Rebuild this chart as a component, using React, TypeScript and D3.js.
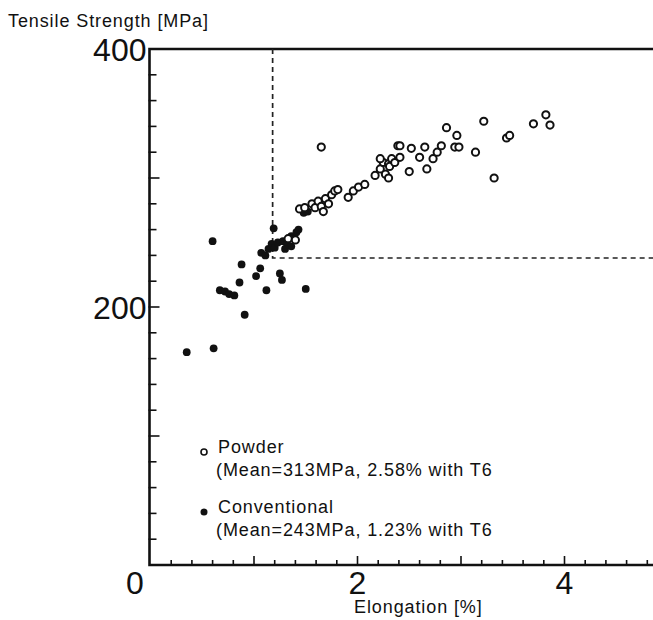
import React, { useRef, useEffect } from "react";
import * as d3 from "d3";

// powder metallurgy samples (open markers)
const powderElong = [
  1.33, 1.4, 1.44, 1.49, 1.56, 1.59, 1.62, 1.65, 1.69, 1.72, 1.75, 1.78, 1.81,
  1.67, 1.65, 1.91, 1.96, 2.01, 2.07, 2.17, 2.22, 2.27, 2.3, 2.25, 2.3, 2.33,
  2.39, 2.22, 2.31, 2.36, 2.41, 2.41, 2.5, 2.52, 2.6, 2.65, 2.67, 2.73, 2.77,
  2.81, 2.86, 2.94, 2.98, 2.96, 3.14, 3.22, 3.32, 3.44, 3.47, 3.7, 3.82, 3.86,
];
const powderStrength = [
  253, 252, 276, 277, 280, 277, 282, 278, 284, 280, 287, 290, 291,
  274, 324, 285, 290, 293, 295, 302, 307, 303, 300, 312, 311, 315,
  325, 315, 309, 312, 316, 325, 305, 323, 316, 324, 307, 315, 320,
  325, 339, 324, 324, 333, 320, 344, 300, 331, 333, 342, 349, 341,
];

// conventional castings (filled markers)
const convElong = [
  0.35, 0.61, 0.6, 0.67, 0.72, 0.76, 0.81, 0.86, 0.88, 0.91, 1.02, 1.06, 1.12,
  1.25, 1.27, 1.5, 1.19, 1.07, 1.11, 1.14, 1.17, 1.2, 1.23, 1.28, 1.32, 1.36,
  1.41, 1.36, 1.3, 1.48, 1.52, 1.43,
];
const convStrength = [
  165, 168, 251, 213, 212, 210, 209, 219, 233, 194, 224, 230, 213,
  226, 221, 214, 261, 242, 240, 245, 249, 246, 250, 251, 249, 255,
  258, 247, 245, 273, 274, 260,
];

// mean of conventional castings marked by dashed lines
const refElong = 1.18;
const refStrength = 238;

const xTickLabels = [0, 2, 4];
const yTickLabels = [200, 400];

const legendLines = [
  ["Powder", "(Mean=313MPa, 2.58% with T6"],
  ["Conventional", "(Mean=243MPa, 1.23% with T6"],
];

export default function App() {
  const svgRef = useRef(null);
  const width = 653;
  const height = 620;

  useEffect(() => {
    const svg = d3.select(svgRef.current);
    svg.selectAll("*").remove();

    const x = d3.scaleLinear().domain([0, 5]).range([150.5, 668]);
    const y = d3.scaleLinear().domain([0, 400]).range([565, 49]);
    const font = "'Liberation Sans', Arial, Helvetica, sans-serif";

    svg.append("rect").attr("width", width).attr("height", height).attr("fill", "white");

    //y axis minor + major ticks, pointing inward
    const g = svg.append("g").attr("stroke", "#111");
    g.selectAll("line.yt")
      .data(d3.range(20, 400, 20))
      .join("line")
      .attr("x1", x(0) - 2)
      .attr("x2", (d) => x(0) + (d % 100 === 0 ? 9 : 6))
      .attr("y1", (d) => y(d))
      .attr("y2", (d) => y(d))
      .attr("stroke-width", 1.6);

    //x axis ticks every 0.2
    g.selectAll("line.xt")
      .data(d3.range(1, 25).map((i) => i * 0.2))
      .join("line")
      .attr("x1", (d) => x(d))
      .attr("x2", (d) => x(d))
      .attr("y1", y(0))
      .attr("y2", (d) => y(0) - (Math.abs(d - Math.round(d)) < 0.01 ? 9 : 5))
      .attr("stroke-width", 1.6);

    //frame
    g.append("path")
      .attr("d", `M${x(5)},${y(400)}H${x(0) - 1}V${y(0)}H${x(5)}`)
      .attr("fill", "none")
      .attr("stroke-width", 2.6);

    //dashed guide lines at the conventional mean
    svg
      .append("path")
      .attr("d", `M${x(refElong)},${y(400)}V${y(refStrength)}H${x(5)}`)
      .attr("fill", "none")
      .attr("stroke", "#222")
      .attr("stroke-width", 1.7)
      .attr("stroke-dasharray", "5,4");

    //conventional points
    svg
      .append("g")
      .selectAll("circle")
      .data(convElong.map((e, i) => [e, convStrength[i]]))
      .join("circle")
      .attr("cx", (d) => x(d[0]))
      .attr("cy", (d) => y(d[1]))
      .attr("r", 3.9)
      .attr("fill", "#111");

    //powder points
    svg
      .append("g")
      .selectAll("circle")
      .data(powderElong.map((e, i) => [e, powderStrength[i]]))
      .join("circle")
      .attr("cx", (d) => x(d[0]))
      .attr("cy", (d) => y(d[1]))
      .attr("r", 3.6)
      .attr("fill", "white")
      .attr("stroke", "#111")
      .attr("stroke-width", 2);

    //big tick labels
    const big = svg.append("g").style("font-family", font).style("font-size", "32px").attr("fill", "#111");
    big
      .selectAll("text.y")
      .data(yTickLabels)
      .join("text")
      .attr("x", x(0) - 4)
      .attr("y", (d) => y(d) + 11.5)
      .attr("text-anchor", "end")
      .text((d) => d);
    big
      .selectAll("text.x")
      .data(xTickLabels)
      .join("text")
      .attr("x", (d) => (d === 0 ? 135 : x(d)))
      .attr("y", 594)
      .attr("text-anchor", "middle")
      .text((d) => d);

    //axis titles
    const small = svg
      .append("g")
      .style("font-family", font)
      .style("font-size", "18px")
      .style("letter-spacing", "0.9px")
      .attr("fill", "#111");
    small.append("text").attr("x", 8).attr("y", 27).text("Tensile Strength [MPa]");
    small.append("text").attr("x", 354).attr("y", 613).text("Elongation [%]");

    //legend
    const legendY = [453, 513];
    legendLines.forEach((lines, i) => {
      small.append("text").attr("x", 218).attr("y", legendY[i]).text(lines[0]);
      small.append("text").attr("x", 216).attr("y", legendY[i] + 23).text(lines[1]);
    });
    svg
      .append("circle")
      .attr("cx", 204)
      .attr("cy", 452)
      .attr("r", 3)
      .attr("fill", "white")
      .attr("stroke", "#111")
      .attr("stroke-width", 1.6);
    svg.append("circle").attr("cx", 204).attr("cy", 512).attr("r", 3.5).attr("fill", "#111");
  }, []);

  return (
    <svg
      ref={svgRef}
      width={width}
      height={height}
      style={{ position: "absolute", left: 0, top: 0 }}
    ></svg>
  );
}
